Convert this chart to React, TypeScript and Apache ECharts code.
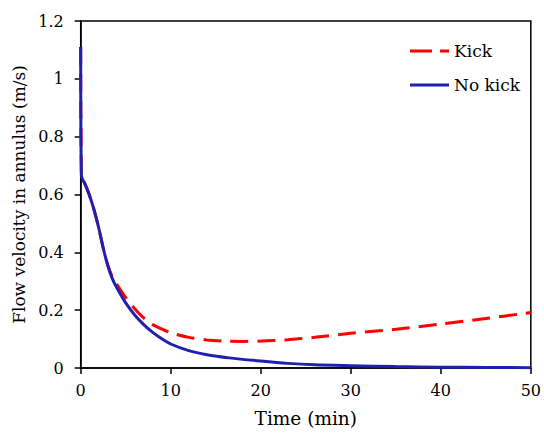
import React, { useEffect, useRef } from "react";
import * as echarts from "echarts";

const timeNoKick = [0, 0.08, 0.5, 1.0, 1.5, 2.0, 2.5, 3.0, 3.5, 4.0, 5.0, 6.0, 7.0, 8.0, 9.0, 10.0, 12.0, 14.0, 16.5, 20, 23, 26, 30, 35, 40, 45, 50];
const velNoKick = [1.11, 0.665, 0.635, 0.595, 0.545, 0.485, 0.415, 0.355, 0.31, 0.278, 0.225, 0.183, 0.15, 0.123, 0.101, 0.083, 0.06, 0.046, 0.035, 0.024, 0.016, 0.011, 0.008, 0.005, 0.003, 0.002, 0.001];

const timeKick = [0, 0.08, 0.5, 1.0, 1.5, 2.0, 2.5, 3.0, 3.5, 4.0, 5.0, 6.0, 7.0, 8.0, 9.0, 10, 12, 14, 16, 18, 20, 23, 26, 30, 35, 40, 45, 50];
const velKick = [1.11, 0.665, 0.635, 0.595, 0.545, 0.485, 0.415, 0.357, 0.316, 0.29, 0.243, 0.205, 0.173, 0.15, 0.135, 0.122, 0.106, 0.097, 0.093, 0.092, 0.093, 0.098, 0.106, 0.12, 0.134, 0.152, 0.171, 0.192];

const xTicks = { min: 0, max: 50, interval: 10 };
const yTicks = { min: 0, max: 1.2, interval: 0.2 };

const FONT = "DejaVu Serif";

export default function App() {
  const ref = useRef<HTMLDivElement>(null);
  useEffect(() => {
    if (!ref.current) return;
    const chart = echarts.init(ref.current, null, { renderer: "svg" });
    const pair = (xs: number[], ys: number[]) => xs.map((x, i) => [x, ys[i]]);
    chart.setOption({
      animation: false,
      backgroundColor: "#fff",
      textStyle: { fontFamily: FONT },
      grid: {
        left: 80.7,
        right: 12,
        top: 21,
        bottom: 64.5,
        show: true,
        borderColor: "#000",
        borderWidth: 1.5,
      },
      legend: {
        orient: "vertical",
        left: 405,
        top: 36,
        itemWidth: 39,
        itemHeight: 3,
        itemGap: 14,
        textStyle: { fontFamily: FONT, fontSize: 17, color: "#000", lineHeight: 20 },
        data: [
          { name: "Kick", icon: "path://M0,0h22v3h-22z M30,0h9v3h-9z", itemStyle: { color: "#ff0000" } },
          { name: "No kick", icon: "path://M0,0h39v3h-39z", itemStyle: { color: "#2020b0" } },
        ],
      },
      xAxis: {
        type: "value",
        min: xTicks.min,
        max: xTicks.max,
        interval: xTicks.interval,
        name: "Time (min)",
        nameLocation: "middle",
        nameGap: 41,
        nameTextStyle: { fontFamily: FONT, fontSize: 18.5, color: "#000" },
        axisLine: { show: true, lineStyle: { color: "#000", width: 1.5 } },
        axisTick: { show: true, inside: false, length: 6, lineStyle: { color: "#000", width: 1.5 } },
        axisLabel: { fontFamily: FONT, fontSize: 16, color: "#000", margin: 14 },
        splitLine: { show: false },
      },
      yAxis: {
        type: "value",
        min: yTicks.min,
        max: yTicks.max,
        interval: yTicks.interval,
        name: "Flow velocity in annulus (m/s)",
        nameLocation: "middle",
        nameGap: 49,
        nameTextStyle: { fontFamily: FONT, fontSize: 17, color: "#000" },
        axisLine: { show: true, lineStyle: { color: "#000", width: 1.5 } },
        axisTick: { show: true, inside: false, length: 6, lineStyle: { color: "#000", width: 1.5 } },
        axisLabel: { fontFamily: FONT, fontSize: 16, color: "#000", margin: 17 },
        splitLine: { show: false },
      },
      series: [
        {
          name: "Kick",
          type: "line",
          data: pair(timeKick, velKick),
          symbol: "none",
          smooth: 0.3,
          color: "#ff0000",
          lineStyle: { color: "#ff0000", width: 3, type: [18, 9] },
        },
        {
          name: "No kick",
          type: "line",
          data: pair(timeNoKick, velNoKick),
          symbol: "none",
          smooth: 0.3,
          color: "#2020b0",
          lineStyle: { color: "#2020b0", width: 3 },
        },
      ],
    });
    return () => chart.dispose();
  }, []);
  return (
    <div
      ref={ref}
      style={{ position: "fixed", left: 0, top: 0, width: 544, height: 433 }}
    />
  );
}
